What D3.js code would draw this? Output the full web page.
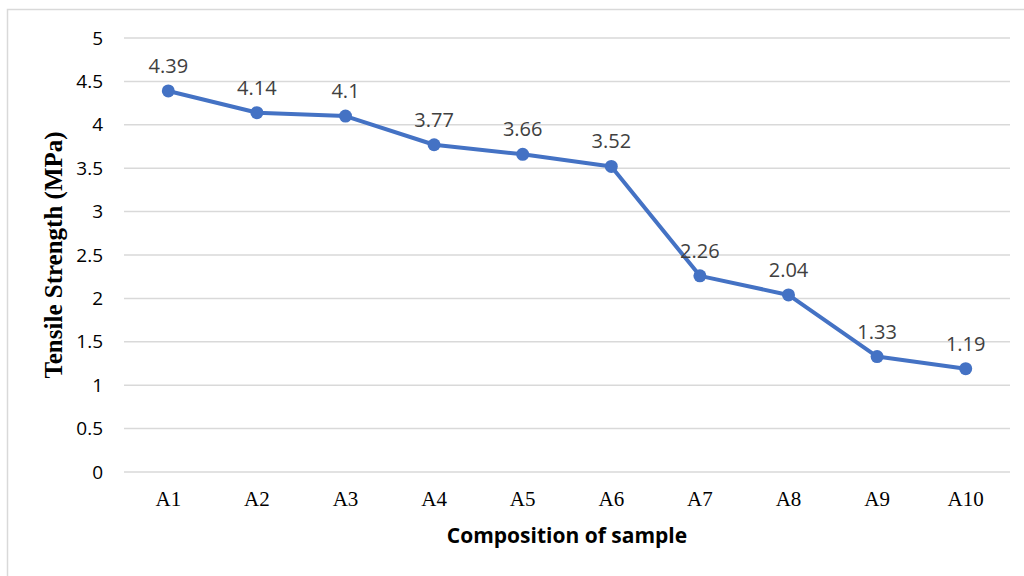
<!DOCTYPE html>
<html>
<head>
<meta charset="utf-8">
<script src="https://cdn.jsdelivr.net/npm/d3@7"></script>
<style>
  html, body { margin: 0; padding: 0; background: #fff; }
  svg { display: block; }
</style>
</head>
<body>
<svg id="chart" width="1024" height="576"></svg>
<script>
// Tensile strength per sample composition
const categories = ["A1", "A2", "A3", "A4", "A5", "A6", "A7", "A8", "A9", "A10"];
const strength = [4.39, 4.14, 4.1, 3.77, 3.66, 3.52, 2.26, 2.04, 1.33, 1.19];
const yTicks = [0, 0.5, 1, 1.5, 2, 2.5, 3, 3.5, 4, 4.5, 5];

const svg = d3.select("#chart");
const margin = { left: 124, right: 14, top: 38, bottom: 104 };
const width = 1024, height = 576;
const sans = "'Open Sans', 'Liberation Sans', sans-serif";
const serif = "'Liberation Serif', 'Times New Roman', serif";

// outer chart frame
svg.append("rect")
  .attr("x", 7.5).attr("y", 9.5)
  .attr("width", 1030).attr("height", 600)
  .attr("fill", "none").attr("stroke", "#d9d9d9").attr("stroke-width", 1.5);

const x = d3.scaleBand()
  .domain(categories)
  .range([margin.left, width - margin.right]);

const y = d3.scaleLinear()
  .domain([0, 5])
  .range([height - margin.bottom, margin.top]);

// horizontal gridlines
svg.append("g")
  .selectAll("line")
  .data(yTicks)
  .join("line")
  .attr("x1", margin.left).attr("x2", width - margin.right)
  .attr("y1", d => y(d)).attr("y2", d => y(d))
  .attr("stroke", "#d9d9d9").attr("stroke-width", 1.5);

// y axis labels
const yAxis = d3.axisLeft(y).tickValues(yTicks).tickSize(0).tickPadding(21).tickFormat(d3.format("~g"));
svg.append("g")
  .attr("transform", `translate(${margin.left},0)`)
  .call(yAxis)
  .call(g => g.select(".domain").remove())
  .call(g => g.selectAll("text")
    .attr("font-family", sans)
    .attr("font-size", 19).attr("fill", "#000"));

// x axis labels
const xAxis = d3.axisBottom(x).tickSize(0).tickPadding(0);
svg.append("g")
  .attr("transform", `translate(0,${y(0)})`)
  .call(xAxis)
  .call(g => g.select(".domain").remove())
  .call(g => g.selectAll("text")
    .attr("y", 34).attr("dy", 0)
    .attr("font-family", serif)
    .attr("font-size", 21).attr("fill", "#000"));

// series line
const line = d3.line()
  .x((d, i) => x(categories[i]) + x.bandwidth() / 2)
  .y(d => y(d));

svg.append("path")
  .datum(strength)
  .attr("d", line)
  .attr("fill", "none")
  .attr("stroke", "#4472C4")
  .attr("stroke-width", 4)
  .attr("stroke-linejoin", "round");

// markers
svg.append("g")
  .selectAll("circle")
  .data(strength)
  .join("circle")
  .attr("cx", (d, i) => x(categories[i]) + x.bandwidth() / 2)
  .attr("cy", d => y(d))
  .attr("r", 6.5)
  .attr("fill", "#4472C4");

// value labels
svg.append("g")
  .selectAll("text")
  .data(strength)
  .join("text")
  .attr("x", (d, i) => x(categories[i]) + x.bandwidth() / 2)
  .attr("y", d => y(d) - 18)
  .attr("text-anchor", "middle")
  .attr("font-family", sans)
  .attr("font-size", 20)
  .attr("fill", "#404040")
  .text(d => d);

// axis titles
svg.append("text")
  .attr("x", (margin.left + width - margin.right) / 2)
  .attr("y", 543)
  .attr("text-anchor", "middle")
  .attr("font-family", sans)
  .attr("font-weight", "bold")
  .attr("font-size", 21)
  .attr("fill", "#000")
  .text("Composition of sample");

svg.append("text")
  .attr("transform", `translate(62,${(margin.top + height - margin.bottom) / 2}) rotate(-90)`)
  .attr("text-anchor", "middle")
  .attr("font-family", serif)
  .attr("font-weight", "bold")
  .attr("font-size", 25)
  .attr("fill", "#000")
  .text("Tensile Strength (MPa)");
</script>
</body>
</html>
